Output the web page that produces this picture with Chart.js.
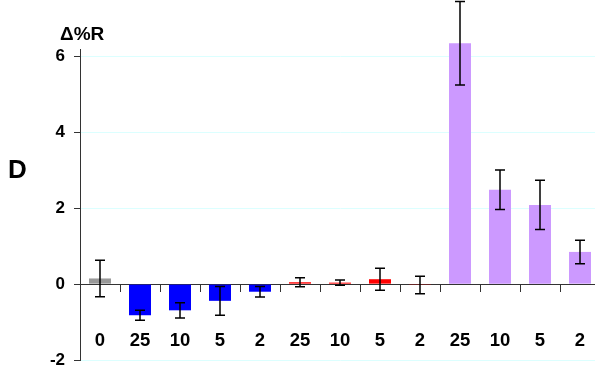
<!DOCTYPE html>
<html>
<head>
<meta charset="utf-8">
<script src="https://cdn.jsdelivr.net/npm/chart.js@4"></script>
<style>
  html, body { margin: 0; padding: 0; background: #fff; overflow: hidden; }
  #wrap { position: relative; width: 600px; height: 368px; }
  .lbl { position: absolute; font-family: "Liberation Sans", Arial, sans-serif; font-weight: bold; color: #000; white-space: nowrap; }
</style>
</head>
<body>
<div id="wrap">
  <canvas id="chart" width="600" height="368"></canvas>
  <div class="lbl" id="yTitle" style="left:60px; top:23px; font-size:19px;">Δ%R</div>
  <div class="lbl" id="panel" style="left:8px; top:154px; font-size:26px;">D</div>
</div>
<script>
// Chart data
const categories = ['0', '25', '10', '5', '2', '25', '10', '5', '2', '25', '10', '5', '2'];
const deltaR = [0.15, -0.82, -0.69, -0.44, -0.2, 0.05, 0.04, 0.13, -0.02, 6.35, 2.49, 2.09, 0.85];
const errors = [0.48, 0.13, 0.2, 0.38, 0.14, 0.12, 0.07, 0.29, 0.23, 1.1, 0.52, 0.65, 0.31];
const yTicks = [-2, 0, 2, 4, 6];

const barColors = ['#999999',
    '#0000ff', '#0000ff', '#0000ff', '#0000ff',
    '#ff0000', '#ff0000', '#ff0000', '#ff0000',
    '#cc99ff', '#cc99ff', '#cc99ff', '#cc99ff'];

// error bars drawn on top of the bars
const errorBars = {
    id: 'errorBars',
    afterDatasetsDraw(chart) {
        const ctx = chart.ctx;
        const y = chart.scales.y;
        const meta = chart.getDatasetMeta(0);
        ctx.save();
        ctx.strokeStyle = '#000';
        ctx.lineWidth = 1.5;
        meta.data.forEach((bar, i) => {
            const top = y.getPixelForValue(deltaR[i] + errors[i]);
            const bottom = y.getPixelForValue(deltaR[i] - errors[i]);
            ctx.beginPath();
            ctx.moveTo(bar.x, top);
            ctx.lineTo(bar.x, bottom);
            ctx.moveTo(bar.x - 5, top);
            ctx.lineTo(bar.x + 5, top);
            ctx.moveTo(bar.x - 5, bottom);
            ctx.lineTo(bar.x + 5, bottom);
            ctx.stroke();
        });
        ctx.restore();
    }
};

const ctx = document.getElementById('chart').getContext('2d');
const chart = new Chart(ctx, {
    type: 'bar',
    data: {
        labels: categories,
        datasets: [{
            data: deltaR,
            backgroundColor: barColors,
            barPercentage: 0.55,
            categoryPercentage: 1,
            clip: false
        }]
    },
    options: {
        responsive: false,
        animation: false,
        layout: { padding: { left: 0, top: 49, right: 0, bottom: 8 } },
        plugins: {
            legend: { display: false },
            tooltip: { enabled: false }
        },
        scales: {
            x: {
                type: 'category',
                position: { y: 0 },
                grid: {
                    offset: true,
                    drawOnChartArea: false,
                    tickLength: 7,
                    tickColor: '#333',
                    lineWidth: 1
                },
                border: { color: '#333', width: 1 },
                ticks: {
                    color: '#000',
                    padding: 39,
                    maxRotation: 0,
                    autoSkip: false,
                    font: { family: '"Liberation Sans", Arial, sans-serif', size: 18.5, weight: 'bold' }
                },
                afterFit: s => {
                    s.height = 0;
                    s.paddingLeft = 0;
                    s.paddingRight = 0;
                    s.paddingTop = 0;
                    s.paddingBottom = 0;
                }
            },
            y: {
                min: -2,
                max: 6.2,
                grid: {
                    color: c => (c.tick && c.tick.value === 0) ? 'rgba(0,0,0,0)' : '#dcffff',
                    tickColor: '#333',
                    tickLength: 6,
                    lineWidth: 1
                },
                border: { color: '#333', width: 1 },
                ticks: {
                    stepSize: 2,
                    color: '#000',
                    padding: 9,
                    font: { family: '"Liberation Sans", Arial, sans-serif', size: 17, weight: 'bold' }
                },
                afterBuildTicks: s => { s.ticks = yTicks.map(v => ({ value: v })); },
                afterFit: s => {
                    s.width = 80;
                    s.paddingTop = 0;
                    s.paddingBottom = 0;
                    s.paddingLeft = 0;
                    s.paddingRight = 0;
                }
            }
        }
    },
    plugins: [errorBars]
});
</script>
</body>
</html>
